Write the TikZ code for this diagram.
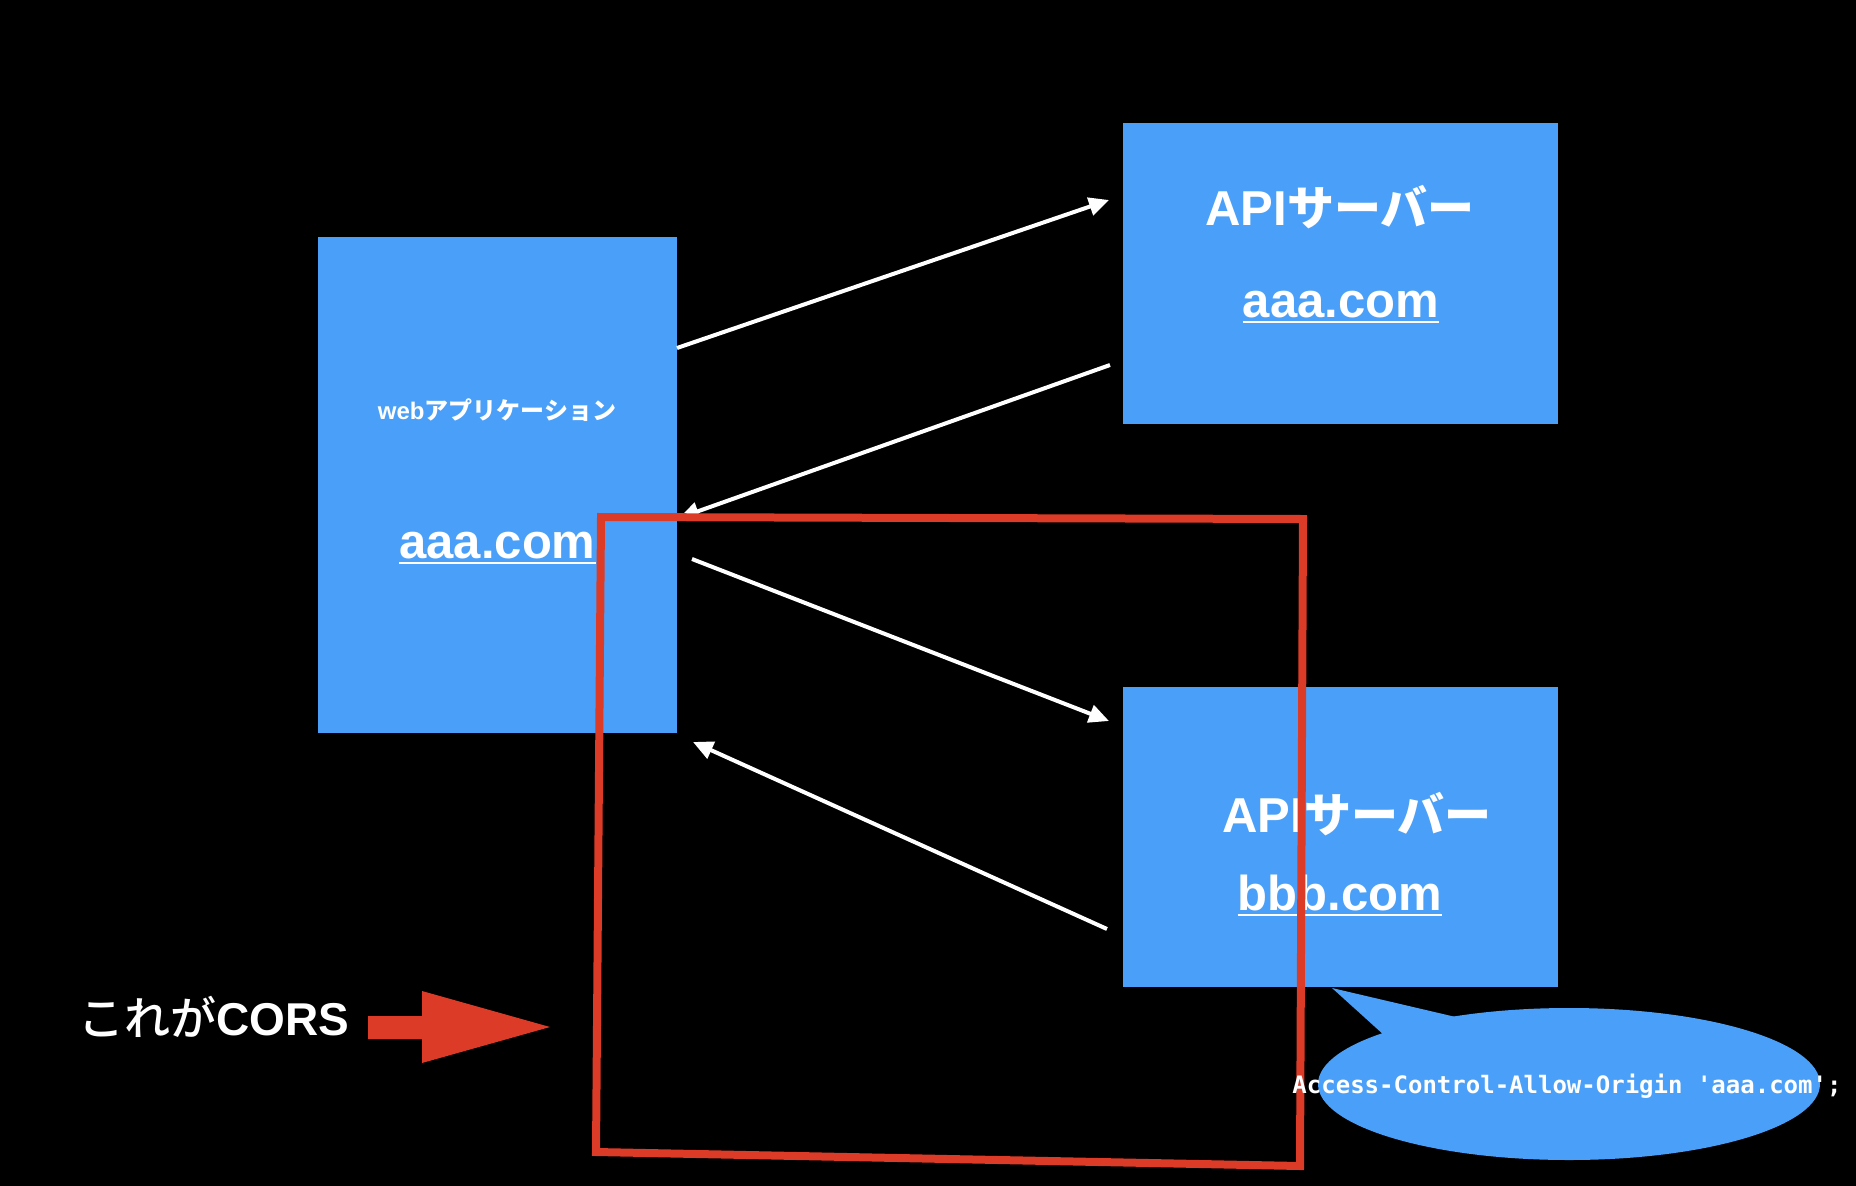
\documentclass[tikz,border=0pt]{standalone}
\usepackage{fontspec}
\setmainfont{Liberation Sans}
\newfontfamily\jpf{Noto Sans CJK JP}
\newfontfamily\jpm{Noto Sans CJK JP Medium}
\newfontfamily\monof{DejaVu Sans Mono}
\usetikzlibrary{arrows.meta,shapes.geometric}
\definecolor{cblue}{HTML}{4AA0F8}
\definecolor{cred}{HTML}{DC3B28}
\tikzset{
  box/.style={fill=cblue, draw=none, inner sep=0pt, outer sep=0pt, anchor=north west},
  conn/.style={white, line width=4pt, -{Triangle[length=20pt,width=18pt]}},
  lbl/.style={text=white, inner sep=0pt, anchor=base, font=\bfseries},
  uline/.style={white, line width=2.5pt},
}
\newcommand{\fs}[1]{\fontsize{#1}{#1}\selectfont}
\begin{document}
\begin{tikzpicture}[x=1pt,y=-1pt]
\fill[black] (0,0) rectangle (1856,1186);
\useasboundingbox (0,0) rectangle (1856,1186);

% boxes
\node[box, minimum width=359pt, minimum height=496pt] (web) at (318,237) {};
\node[box, minimum width=435pt, minimum height=301pt] (apiA) at (1123,123) {};
\node[box, minimum width=435pt, minimum height=300pt] (apiB) at (1123,687) {};

% texts in boxes
\node[lbl] (webt) at (497,419) {\fs{24}web{\jpf\bfseries アプリケーション}};
\node[lbl] (webd) at (497.5,558) {\fs{49}aaa.com};
\draw[uline] ([yshift=-5pt]webd.base west) -- ([yshift=-5pt]webd.base east);

\node[lbl] (apiAt) at (1340,225) {\fs{49}API{\jpf\bfseries\fs{47}サーバー}};
\node[lbl] (apiAd) at (1341,317) {\fs{49}aaa.com};
\draw[uline] ([yshift=-5pt]apiAd.base west) -- ([yshift=-5pt]apiAd.base east);

\node[lbl] (apiBt) at (1357,832) {\fs{49}API{\jpf\bfseries\fs{47}サーバー}};
\node[lbl] (apiBd) at (1340,910) {\fs{49}bbb.com};
\draw[uline] ([yshift=-5pt]apiBd.base west) -- ([yshift=-5pt]apiBd.base east);

% connectors
\coordinate (a1s) at (677,348);  \coordinate (a1e) at (1109,200);
\coordinate (a2s) at (1110,365); \coordinate (a2e) at (679,518);
\coordinate (a3s) at (692,559);  \coordinate (a3e) at (1109,721);
\coordinate (a4s) at (1107,929); \coordinate (a4e) at (693,742);
\draw[conn] (a1s) -- (a1e);
\draw[conn] (a2s) -- (a2e);
\draw[conn] (a3s) -- (a3e);
\draw[conn] (a4s) -- (a4e);

% red frame
\coordinate (r1) at (601,517);
\coordinate (r2) at (1303,519);
\coordinate (r3) at (1300,1166);
\coordinate (r4) at (596,1152);
\draw[cred, line width=8pt, line join=miter] (r1) -- (r2) -- (r3) -- (r4) -- cycle;

% callout
\node[fill=cblue, ellipse, minimum width=502pt, minimum height=152pt, inner sep=0pt] (bub) at (1569,1084) {};
\coordinate (tail) at (1332,988);
\fill[cblue] (tail) -- (1460,1018) -- (1395,1045) -- cycle;
\node[lbl, font=\monof\bfseries] (code) at (1567,1093) {\fs{24}Access-Control-Allow-Origin 'aaa.com';};

% CORS label and arrow
\node[lbl, anchor=base west] (cors) at (78,1035) {\fs{46}{\jpm\mdseries これが}CORS};
\fill[cred] (368,1016) -- (422,1016) -- (422,991) -- (550,1027) -- (422,1063) -- (422,1039) -- (368,1039) -- cycle;
\end{tikzpicture}
\end{document}
